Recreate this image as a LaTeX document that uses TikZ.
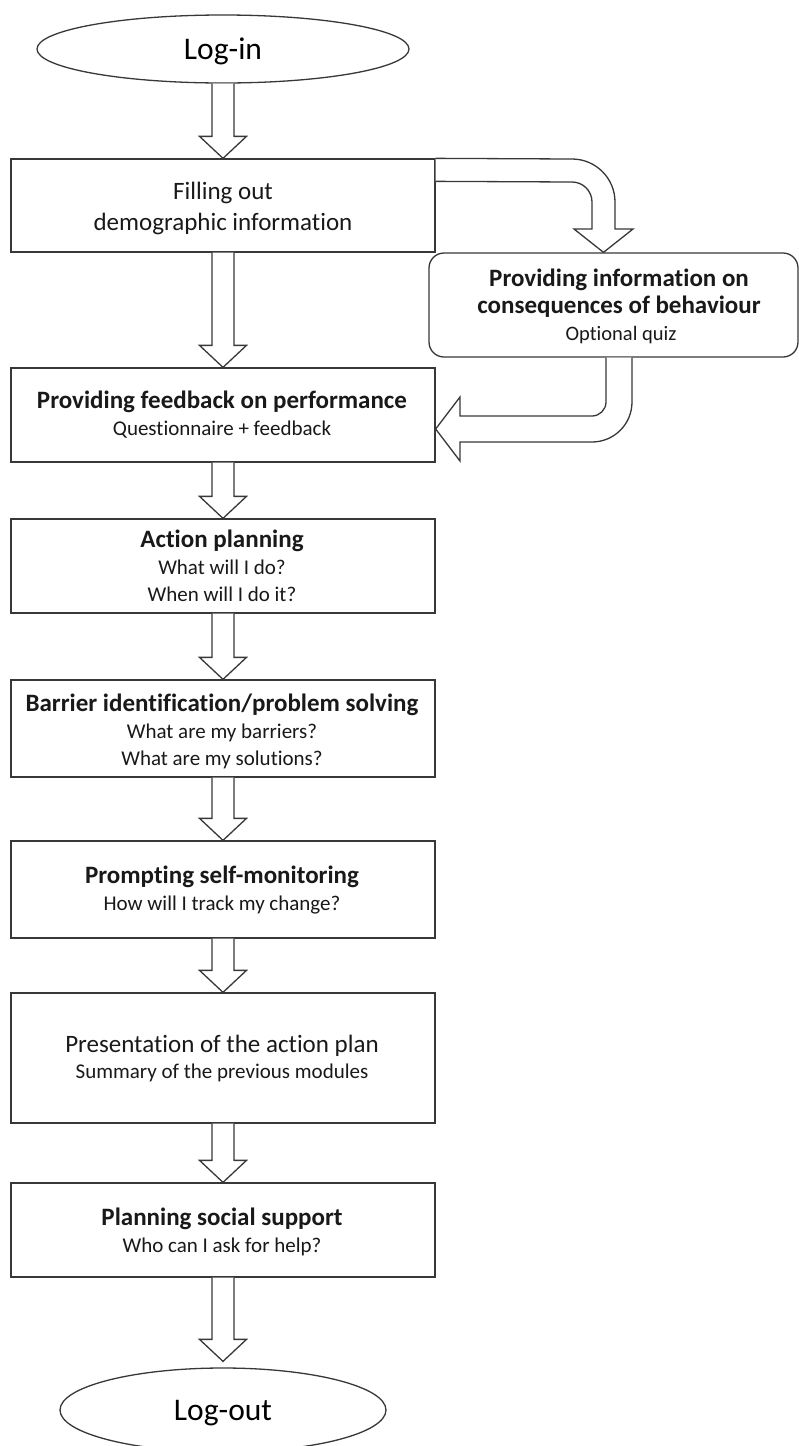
\documentclass[tikz,border=0pt]{standalone}
\usepackage{fontspec}
\setmainfont{Carlito}[Ligatures={NoCommon}]
\usetikzlibrary{shapes.geometric,calc}
\tikzset{
  ln/.style={draw=black!78, line width=1.3pt},
  boxnode/.style={ln, rectangle, fill=white, inner sep=0pt, minimum width=424pt},
  rbox/.style={ln, rectangle, rounded corners=15pt, fill=white, inner sep=0pt},
  oval/.style={ln, ellipse, fill=white, inner sep=0pt, text height=20pt, text depth=0pt,
     font=\fontsize{31.5}{36}\selectfont},
  arr/.style={ln, fill=white, line join=miter},
  lbl/.style={anchor=base, inner sep=0pt, text=black!90},
  hd/.style={lbl, font=\fontsize{25}{30}\selectfont\bfseries},
  rg/.style={lbl, font=\fontsize{25}{30}\selectfont},
  sb/.style={lbl, font=\fontsize{21}{25}\selectfont},
}
\newcommand{\blkarrow}[2]{%
  \draw[arr] ($(#1)+(-11,0)$) -- ($(#2)+(-11,-22)$) -- ($(#2)+(-23.5,-22)$) -- (#2)
    -- ($(#2)+(23.5,-22)$) -- ($(#2)+(11,-22)$) -- ($(#1)+(11,0)$);}
\begin{document}
\begin{tikzpicture}[x=1pt,y=-1pt]
\useasboundingbox (0,0) rectangle (799,1446);
\clip (0,0) rectangle (799,1446);
\fill[white] (0,0) rectangle (799,1446);

% terminals
\node[oval, minimum width=372pt, minimum height=68pt] (login) at (223,49) {Log-in};
\node[oval, minimum width=326pt, minimum height=84pt] (logout) at (223,1410) {Log-out};

% boxes
\node[boxnode, minimum height=93pt] (box1) at (223,205.5) {};
\node[rbox, minimum width=369pt, minimum height=104pt] (box2) at (613.5,305) {};
\node[boxnode, minimum height=94pt] (box3) at (223,415) {};
\node[boxnode, minimum height=94pt] (box4) at (223,566) {};
\node[boxnode, minimum height=97pt] (box5) at (223,728.5) {};
\node[boxnode, minimum height=97pt] (box6) at (223,889.5) {};
\node[boxnode, minimum height=130pt] (box7) at (223,1058) {};
\node[boxnode, minimum height=94pt] (box8) at (223,1230) {};

% texts
\node[rg] (t1a) at (223,199) {Filling out};
\node[rg] (t1b) at (223,230) {demographic information};
\node[hd] (t2a) at (619,286) {Providing information on};
\node[hd] (t2b) at (619,313) {consequences of behaviour};
\node[lbl, font=\fontsize{20.5}{24}\selectfont] (t2c) at (621,340) {Optional quiz};
\node[hd] (t3a) at (222,408) {Providing feedback on performance};
\node[sb] (t3b) at (222,435) {Questionnaire + feedback};
\node[hd] (t4a) at (222,547) {Action planning};
\node[sb] (t4b) at (222,574) {What will I do?};
\node[sb] (t4c) at (222,601) {When will I do it?};
\node[hd] (t5a) at (222,711) {Barrier identification/problem solving};
\node[sb] (t5b) at (222,738) {What are my barriers?};
\node[sb] (t5c) at (222,765) {What are my solutions?};
\node[hd] (t6a) at (222,883) {Prompting self-monitoring};
\node[sb] (t6b) at (222,910) {How will I track my change?};
\node[rg] (t7a) at (222,1052) {Presentation of the action plan};
\node[sb] (t7b) at (222,1078) {Summary of the previous modules};
\node[hd] (t8a) at (222,1225) {Planning social support};
\node[sb] (t8b) at (222,1252) {Who can I ask for help?};

% straight block arrows
\coordinate (lotip) at ($(logout.north)+(0,-6)$);
\blkarrow{login.south}{box1.north}
\blkarrow{box1.south}{box3.north}
\blkarrow{box3.south}{box4.north}
\blkarrow{box4.south}{box5.north}
\blkarrow{box5.south}{box6.north}
\blkarrow{box6.south}{box7.north}
\blkarrow{box7.south}{box8.north}
\blkarrow{box8.south}{lotip}

% bent arrow: box1 -> box2
\draw[arr] (box1.north east) -- (572,159) .. controls (595.75,159) and (615,178.25) .. (615,202)
  -- (615,229) -- (633,229) -- ($(box2.north)+(-10,0)$) -- (574,229) -- (592,229) -- (592,202)
  .. controls (592,190.95) and (583.05,182) .. (572,182) -- ($(box1.north east)+(0,23)$);

% bent arrow: box2 -> box3
\draw[arr] ($(box2.south)+(-7.5,0)$) -- (606,402) .. controls (606,409.73) and (599.73,416) .. (592,416)
  -- (460,416) -- (460,397) -- ($(box3.east)+(0,14)$) -- (460,461) -- (460,442) -- (592,442)
  .. controls (614.09,442) and (632,424.09) .. (632,402) -- ($(box2.south)+(18.5,0)$);
\end{tikzpicture}
\end{document}
